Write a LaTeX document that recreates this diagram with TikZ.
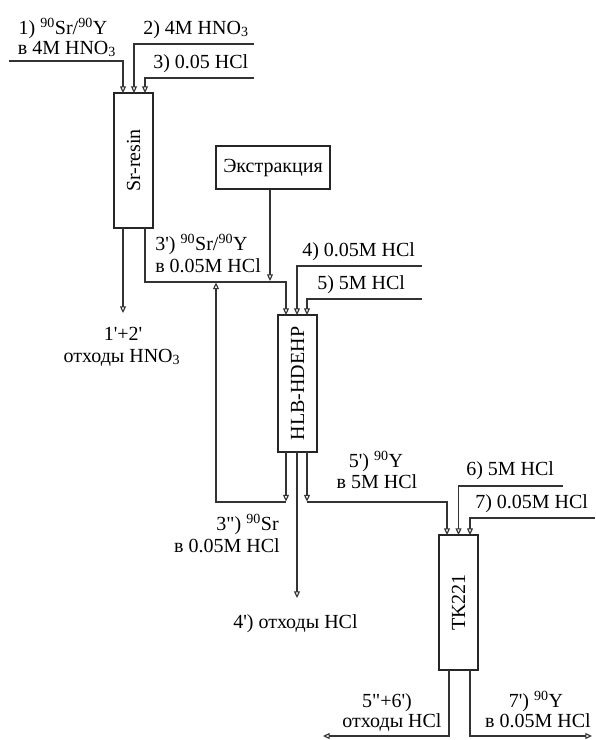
\documentclass[tikz,border=0pt]{standalone}
\usepackage{fontspec}
\newfontfamily\tnr{Liberation Serif}
\usetikzlibrary{arrows.meta}
\begin{document}
\begin{tikzpicture}[x=0.75pt,y=-0.75pt,
  ln/.style={draw=black!80, line width=0.85pt},
  arr/.style={ln, -{Triangle[open,length=5pt,width=4.5pt]}},
  box/.style={draw=black!85, line width=0.9pt, inner sep=0pt, minimum width=29.25pt},
  lbl/.style={font=\tnr\fontsize{15}{16.5}\selectfont, inner sep=0pt, text=black},
  ]
\useasboundingbox (0,0) rectangle (596,740);
% boxes
\node[box, minimum height=101.25pt] (sr) at (133.5,160.5) {};
\node[lbl, rotate=90] (srt) at (sr.center) {Sr-resin};
\node[box, minimum width=85.5pt, minimum height=32.25pt] (ex) at (273,167.5) {};
\node[lbl, anchor=base] (ext) at (273,172) {Экстракция};
\node[box, minimum height=102.75pt] (hlb) at (297.5,383.5) {};
\node[lbl, rotate=90] (hlbt) at (hlb.center) {HLB-HDEHP};
\node[box, minimum height=101.25pt] (tk) at (458.5,602.5) {};
\node[lbl, rotate=90] (tkt) at (tk.center) {TK221};
% coordinates
\coordinate (i1) at (9,61);
\coordinate (i2) at (254,44);
\coordinate (i3) at (254,78);
\coordinate (i4) at (422,266);
\coordinate (i5) at (422,299);
\coordinate (i6) at (563,486);
\coordinate (i7) at (595,518);
\coordinate (o12) at (123,313);
\coordinate (o4) at (297,598);
\coordinate (oL) at (323,736);
\coordinate (oR) at (592,736);
% Sr-resin inputs
\draw[arr] (i1) -| (123,93);
\draw[arr] (i2) -| (134,93);
\draw[arr] (i3) -| (145,93);
% Sr-resin outputs
\draw[arr] (123,228) -- (o12);
\draw[arr] (145,228) |- (286,282) -- (286,315);
\draw[arr] (ex.south -| 270,0) -- (270,281);
% HLB inputs
\draw[arr] (i4) -| (297,315);
\draw[arr] (i5) -| (307,315);
% HLB outputs
\draw[arr] (286,452) -- (286,501.5);
\draw[arr] (286,502) -| (216,282.5);
\draw[arr] (297,452) -- (o4);
\draw[arr] (307,452) -- (307,501.5);
\draw[arr] (307,502) -| (447,535);
% TK inputs
\draw[arr] (i6) -| (458.5,535);
\draw[arr] (i7) -| (470,535);
% TK outputs
\draw[arr] (449,670) |- (oL);
\draw[arr] (470,670) |- (oR);
% labels
\node[lbl, anchor=base] (l1a) at (63,34) {1) \textsuperscript{90}Sr/\textsuperscript{90}Y};
\node[lbl, anchor=base] (l1b) at (67,54) {в 4M HNO\textsubscript{3}};
\node[lbl, anchor=base west] (l2) at (143,34) {2) 4M HNO\textsubscript{3}};
\node[lbl, anchor=base west] (l3) at (153,68) {3) 0.05 HCl};
\node[lbl, anchor=base] (l12a) at (123,340) {1'+2'};
\node[lbl, anchor=base] (l12b) at (122,362) {отходы HNO\textsubscript{3}};
\node[lbl, anchor=base west] (l3pa) at (155,250) {3') \textsuperscript{90}Sr/\textsuperscript{90}Y};
\node[lbl, anchor=base west] (l3pb) at (155,272) {в 0.05M HCl};
\node[lbl, anchor=base west] (l4) at (302,256) {4) 0.05M HCl};
\node[lbl, anchor=base west] (l5) at (317,289) {5) 5M HCl};
\node[lbl, anchor=base east] (l3ppa) at (279,530) {3") \textsuperscript{90}Sr};
\node[lbl, anchor=base east] (l3ppb) at (280,552) {в 0.05M HCl};
\node[lbl, anchor=base west] (l4p) at (233,628) {4') отходы HCl};
\node[lbl, anchor=base] (l5pa) at (376,467) {5') \textsuperscript{90}Y};
\node[lbl, anchor=base] (l5pb) at (377,488) {в 5M HCl};
\node[lbl, anchor=base west] (l6) at (466,475) {6) 5M HCl};
\node[lbl, anchor=base west] (l7) at (475,508) {7) 0.05M HCl};
\node[lbl, anchor=base] (l56a) at (387,707) {5"+6')};
\node[lbl, anchor=base] (l56b) at (392,727) {отходы HCl};
\node[lbl, anchor=base] (l7pa) at (536,707) {7') \textsuperscript{90}Y};
\node[lbl, anchor=base] (l7pb) at (538,727) {в 0.05M HCl};
\end{tikzpicture}
\end{document}
